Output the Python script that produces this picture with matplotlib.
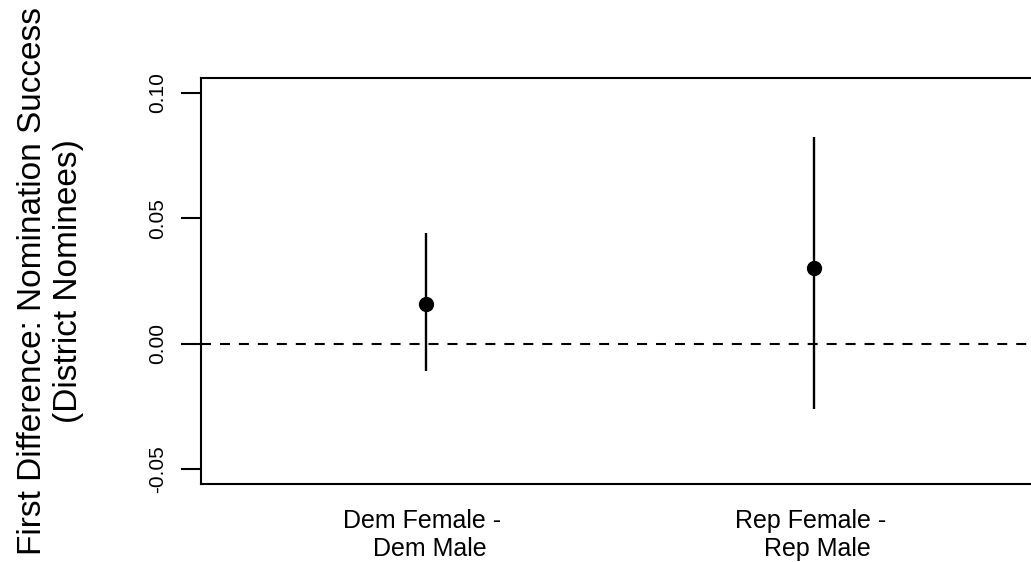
import numpy as np
import matplotlib
matplotlib.use('Agg')
import matplotlib.pyplot as plt

plt.rcParams['font.family'] = ['Liberation Sans', 'DejaVu Sans']

# first differences with confidence intervals
labels = ['Dem Female - \n Dem Male', 'Rep Female - \n Rep Male']
est = [0.0158, 0.0302]
lower = [-0.0109, -0.0260]
upper = [0.0441, 0.0822]
yticks = [-0.05, 0.00, 0.05, 0.10]


def fd_plot():
    fig = plt.figure(figsize=(10.31, 5.62), dpi=100)
    ax = fig.add_axes([201 / 1031, 77.7 / 562, 838 / 1031, 406.6 / 562])

    x = np.arange(1, len(est) + 1)
    ax.axhline(0, color='black', lw=1.5, ls=(0, (4.8, 4.3)), zorder=1)
    ax.vlines(x, lower, upper, color='black', lw=1.7, zorder=2)
    ax.plot(x, est, 'o', color='black', markersize=10, zorder=3)

    ax.set_xlim(0.42, 2.58)
    ax.set_ylim(-0.056, 0.106)

    ax.set_yticks(yticks)
    ax.set_yticklabels(['%.2f' % v for v in yticks])
    ax.tick_params(axis='y', direction='out', length=14.4, width=1.5, pad=10,
                   labelsize=15, labelrotation=90)
    for t in ax.get_yticklabels():
        t.set_va('center')

    ax.set_xticks(x)
    ax.set_xticklabels(labels, multialignment='center')
    ax.tick_params(axis='x', length=0, pad=18, labelsize=18)

    for side in ['left', 'top', 'bottom', 'right']:
        ax.spines[side].set_linewidth(1.5)

    ax.set_ylabel('First Difference: Nomination Success\n(District Nominees)', fontsize=24)
    ax.yaxis.set_label_coords(-0.14, 0.5)
    return fig


if __name__ == '__main__':
    fig = fd_plot()
    fig.savefig('out.png', dpi=100)
